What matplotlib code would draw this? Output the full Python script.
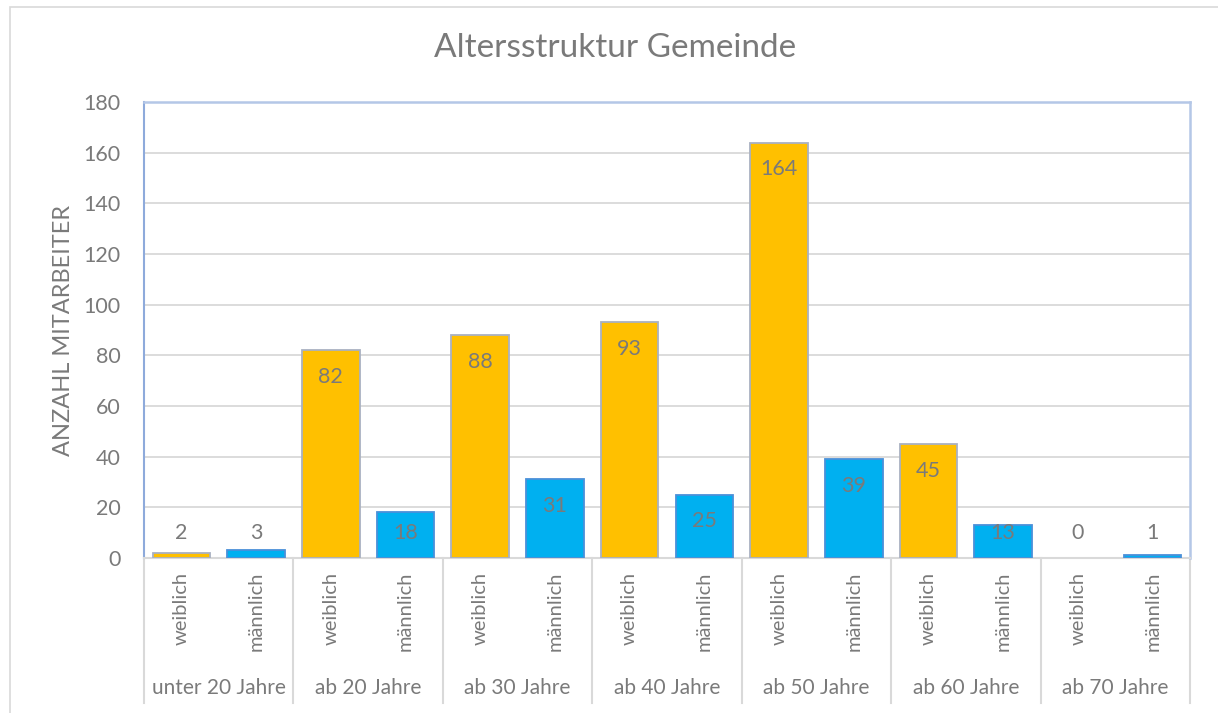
import matplotlib
matplotlib.use("Agg")
import matplotlib.pyplot as plt
import matplotlib.transforms as mtransforms
from matplotlib.patches import Rectangle

# ---- data ----
groups = ["unter 20 Jahre", "ab 20 Jahre", "ab 30 Jahre", "ab 40 Jahre",
          "ab 50 Jahre", "ab 60 Jahre", "ab 70 Jahre"]
genders = ["weiblich", "männlich"]
weiblich = [2, 82, 88, 93, 164, 45, 0]
maennlich = [3, 18, 31, 25, 39, 13, 1]
title = "Altersstruktur Gemeinde"
ylabel = "ANZAHL MITARBEITER"
yticks = [0, 20, 40, 60, 80, 100, 120, 140, 160, 180]

plt.rcParams['font.family'] = ['Lato', 'DejaVu Sans']
txt = '#7a7a7a'
c_w, c_m = '#FFC000', '#00B0F0'
e_w, e_m = '#A9B1C2', '#4A90D9'

W, H = 1218, 713
fig = plt.figure(figsize=(W / 100, H / 100), dpi=100)
ax = fig.add_axes([144 / W, 1 - 558 / H, (1190 - 144) / W, (558 - 102) / H])

# outer chart border
fig.patches.append(Rectangle((10 / W, -0.02), 1.05, 1 - 7 / H + 0.02,
                             transform=fig.transFigure, fill=False,
                             edgecolor='#d9d9d9', lw=1.2))

n = len(groups)
xs, vals, cols, ecs, labs = [], [], [], [], []
for i in range(n):
    for j, (v, c, e) in enumerate([(weiblich[i], c_w, e_w), (maennlich[i], c_m, e_m)]):
        xs.append(2 * i + j)
        vals.append(v)
        cols.append(c)
        ecs.append(e if v > 0 else 'none')
        labs.append(genders[j])

ax.bar(xs, vals, width=0.77, color=cols, edgecolor=ecs, linewidth=1.3, zorder=3)

# data labels: inside end, but never lower than a minimum height
for x, v in zip(xs, vals):
    ypos = max(v - 10.5, 10.0)
    ax.text(x, ypos, str(v), ha='center', va='center', fontsize=15.5,
            color=txt, zorder=4)

ax.set_xlim(-0.5, 2 * n - 0.5)
ax.set_ylim(0, 180)
ax.set_yticks(yticks)
ax.yaxis.grid(True, color='#d9d9d9', lw=1.3, zorder=0)
ax.set_axisbelow(True)
ax.tick_params(axis='y', length=0, pad=17, labelsize=15.5, labelcolor=txt)
ax.set_xticks(xs)
ax.set_xticklabels(labs, rotation=90, ha='center', va='top')
ax.tick_params(axis='x', length=0, pad=10, labelsize=14.5, labelcolor=txt)

ax.spines['left'].set_color('#8EAADB')
ax.spines['left'].set_linewidth(1.5)
ax.spines['top'].set_color('#B4C7E7')
ax.spines['top'].set_linewidth(1.8)
ax.spines['right'].set_color('#B4C7E7')
ax.spines['right'].set_linewidth(1.8)
ax.spines['bottom'].set_color('#d9d9d9')
ax.spines['bottom'].set_linewidth(1.5)

trans = mtransforms.blended_transform_factory(ax.transData, ax.transAxes)
for k in range(n + 1):
    xb = 2 * k - 0.5
    ax.plot([xb, xb], [0, -0.318], transform=trans, color='#d9d9d9', lw=1.5,
            clip_on=False, zorder=1)
for i, g in enumerate(groups):
    ax.text(2 * i + 0.5, -0.285, g, transform=trans, ha='center', va='center',
            fontsize=15, color=txt)

ax.set_ylabel(ylabel, fontsize=17, color=txt)
ax.yaxis.set_label_coords(-(144 - 74) / (1190 - 144), 0.5)

fig.text(615 / W, 1 - 48 / H, title, ha='center', va='center', fontsize=24, color=txt)

fig.savefig('out.png', dpi=100)
